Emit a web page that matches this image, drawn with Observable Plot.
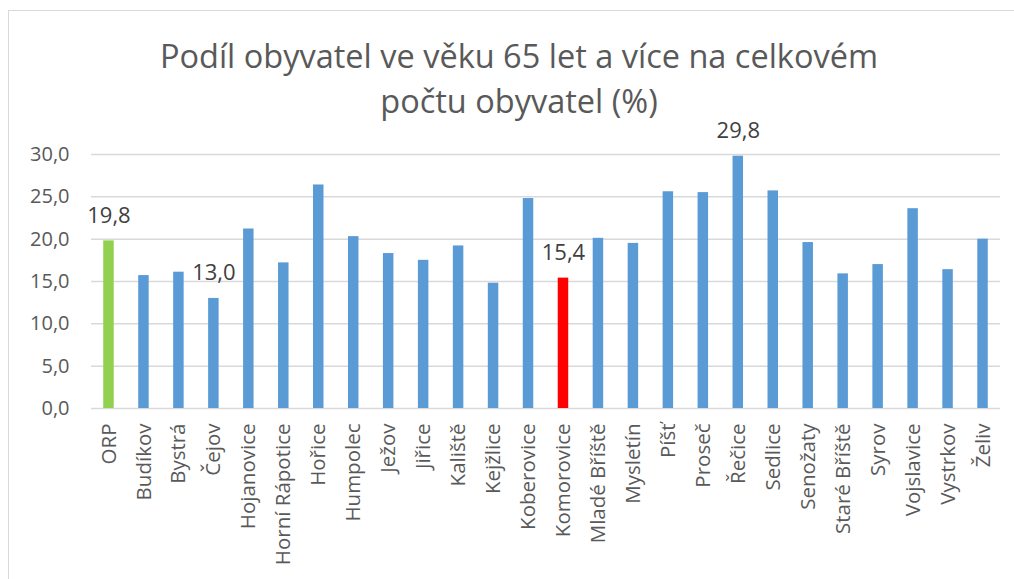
<!DOCTYPE html>
<html>
<head>
<meta charset="utf-8">
<script src="https://cdn.jsdelivr.net/npm/d3@7"></script>
<script src="https://cdn.jsdelivr.net/npm/@observablehq/plot@0.6"></script>
<style>
  html, body { margin: 0; padding: 0; background: #fff; overflow: hidden; }
  body { width: 1014px; height: 579px; position: relative; font-family: "Open Sans", sans-serif; }
  #frame { position: absolute; left: 8px; top: 10px; width: 1100px; height: 700px; border: 1.5px solid #d9d9d9; box-sizing: border-box; }
  #title { position: absolute; left: 0; top: 33px; width: 1038px; text-align: center; font-size: 32.5px; line-height: 45px; color: #595959; z-index: 2; }
  #chart { position: absolute; left: 0; top: 100px; z-index: 1; }
</style>
</head>
<body>
<div id="frame"></div>
<div id="title">Podíl obyvatel ve věku 65 let a více na celkovém<br>počtu obyvatel (%)</div>
<div id="chart"></div>
<script>
const categories = ["ORP","Budíkov","Bystrá","Čejov","Hojanovice","Horní Rápotice","Hořice","Humpolec","Ježov","Jiřice","Kaliště","Kejžlice","Koberovice","Komorovice","Mladé Bříště","Mysletín","Píšť","Proseč","Řečice","Sedlice","Senožaty","Staré Bříště","Syrov","Vojslavice","Vystrkov","Želiv"];
const values = [19.8,15.7,16.1,13.0,21.2,17.2,26.4,20.3,18.3,17.5,19.2,14.8,24.8,15.4,20.1,19.5,25.6,25.5,29.8,25.7,19.6,15.9,17.0,23.6,16.4,20.0];
const labelled = ["ORP","Čejov","Komorovice","Řečice"];
const yTicks = [0,5,10,15,20,25,30];

const colorOf = c => c === "ORP" ? "#92d050" : (c === "Komorovice" ? "#ff0000" : "#5b9bd5");
const data = categories.map((c, i) => ({cat: c, v: values[i], color: colorOf(c)}));
const fmt = d => d.toFixed(1).replace(".", ",");

const chart = Plot.plot({
  width: 1014,
  height: 479,
  marginLeft: 91,
  marginRight: 14,
  marginTop: 54,
  marginBottom: 171,
  style: {fontFamily: "'Open Sans', sans-serif", fontSize: "20px", color: "#595959", background: "transparent", overflow: "visible"},
  x: {domain: categories, paddingInner: 0.7, paddingOuter: 0.35, round: false, label: null},
  y: {domain: [0, 30], label: null},
  marks: [
    Plot.ruleY(yTicks, {stroke: "#d9d9d9", strokeWidth: 1.5}),
    Plot.barY(data, {x: "cat", y: "v", fill: "color"}),
    Plot.text(data.filter(d => labelled.includes(d.cat)), {x: "cat", y: "v", text: d => fmt(d.v), dy: -25, fontSize: 22, fill: "#404040"}),
    Plot.axisY({ticks: yTicks, tickFormat: fmt, tickSize: 0, tickPadding: 22, fontSize: 20, fill: "#595959"}),
    Plot.axisX({tickSize: 0, tickPadding: 15, tickRotate: -90, fontSize: 20.5, fill: "#595959"})
  ]
});
document.getElementById("chart").appendChild(chart);
</script>
</body>
</html>
